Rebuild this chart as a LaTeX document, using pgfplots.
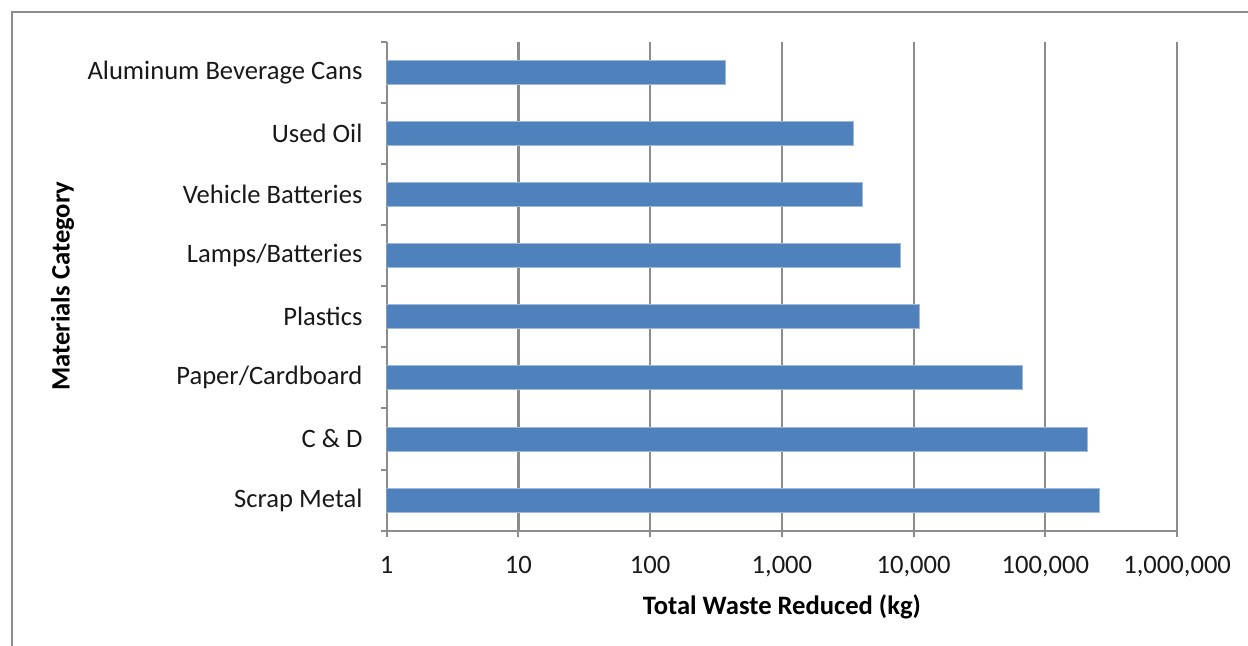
\documentclass[border=0pt]{standalone}
\usepackage{pgfplots}
\pgfplotsset{compat=1.18}
\usepackage{fontspec}
\setmainfont{Carlito}
\definecolor{barblue}{HTML}{4F81BD}
\definecolor{axgray}{HTML}{8C8C8C}
\begin{document}
\fontsize{13.3}{16}\selectfont
\begin{tikzpicture}
\useasboundingbox (0,0) rectangle (624pt,323pt);
\draw[axgray, line width=1pt] (6pt,0) -- (6pt,317pt) -- (624pt,317pt);
\begin{axis}[
  at={(193.35pt,57.65pt)}, anchor=south west,
  scale only axis, width=395.2pt, height=244.5pt,
  xmode=log, log basis x=10, xmin=1, xmax=1000000,
  xtick={1,10,100,1000,10000,100000,1000000},
  xticklabels={1,10,100,{1,000},{10,000},{100,000},{1,000,000}},
  ymin=-0.5, ymax=7.5,
  ytick={-0.5,0.5,...,7.5},
  yticklabels={},
  extra y ticks={0,1,2,3,4,5,6,7},
  extra y tick labels={Scrap Metal, C \& D, Paper/Cardboard, Plastics, Lamps/Batteries, Vehicle Batteries, Used Oil, Aluminum Beverage Cans},
  extra y tick style={major tick length=0pt},
  axis x line*=bottom, axis y line*=left,
  axis line style={axgray, line width=1pt},
  tick style={axgray, line width=1pt},
  tick align=outside, major tick length=3pt,
  xmajorgrids, grid style={axgray, line width=1.1pt},
  ticklabel style={font=\fontsize{13.3}{16}\selectfont, text=black!90},
  yticklabel style={xshift=-7.5pt},
  xticklabel style={yshift=-5pt},
  xlabel={\textbf{Total Waste Reduced (kg)}},
  ylabel={\textbf{Materials Category}},
  label style={font=\fontsize{13.3}{16}\selectfont},
  xlabel style={at={(axis description cs:0.5,0)}, anchor=center, yshift=-38pt},
  ylabel style={at={(axis description cs:-0.41,0.5)}, anchor=center, rotate=0},
]
\addplot[xbar, bar width=12pt, fill=barblue, draw=barblue!55!white, line width=0.5pt]
  coordinates {(256000,0) (208900,1) (67000,2) (11070,3) (7940,4) (4085,5) (3490,6) (370,7)};
\end{axis}
\end{tikzpicture}
\end{document}
